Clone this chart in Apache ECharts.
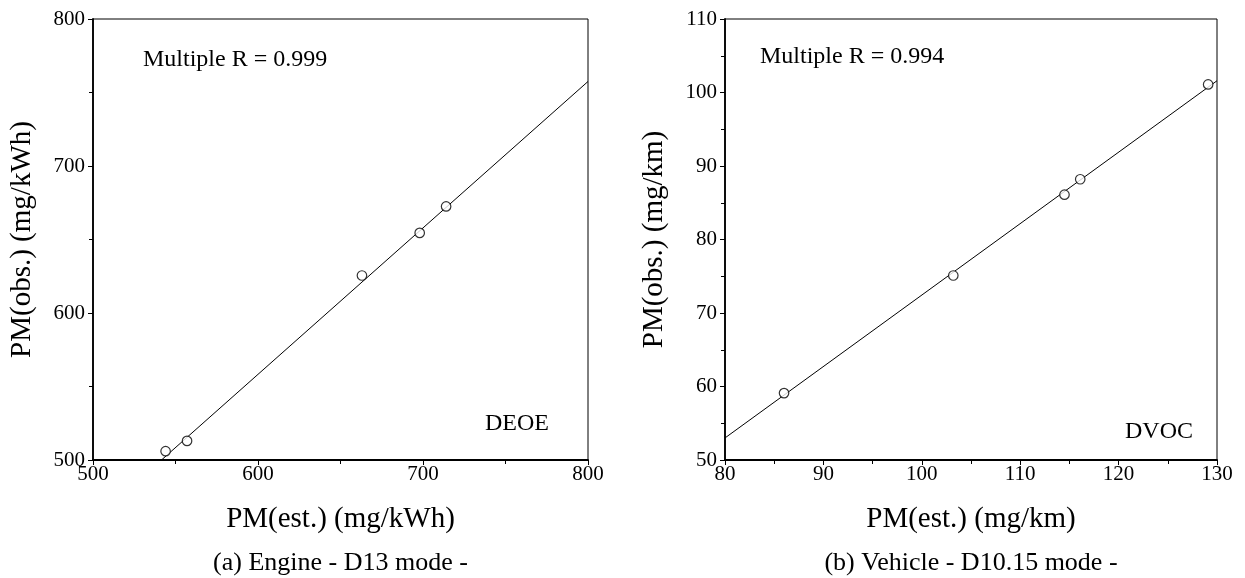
<!DOCTYPE html>
<html>
<head>
<meta charset="utf-8">
<script src="https://cdn.jsdelivr.net/npm/echarts@6/dist/echarts.min.js"></script>
<style>
html,body{margin:0;padding:0;background:#fff;}
#chart{width:1245px;height:578px;}
</style>
</head>
<body>
<div id="chart"></div>
<script>
// Panel (a) Engine - D13 mode
const estA = [544, 557, 663, 698, 714];
const obsA = [506, 513, 625.5, 654.5, 672.5];
const fitAX = [541.5, 800];
const fitAY = [500, 757.5];
// Panel (b) Vehicle - D10.15 mode
const estB = [86, 103.2, 114.5, 116.1, 129.1];
const obsB = [59.1, 75.1, 86.1, 88.2, 101.1];
const fitBX = [80, 130];
const fitBY = [53, 101.6];

const labelsText = {
  aR: 'Multiple R = 0.999', bR: 'Multiple R = 0.994',
  aTag: 'DEOE', bTag: 'DVOC',
  aX: 'PM(est.) (mg/kWh)', aY: 'PM(obs.) (mg/kWh)',
  bX: 'PM(est.) (mg/km)', bY: 'PM(obs.) (mg/km)',
  aCap: '(a) Engine - D13 mode -', bCap: '(b) Vehicle - D10.15 mode -'
};

const FONT = "'Liberation Serif', 'Times New Roman', serif";
const zip = (xs, ys) => xs.map((x, i) => [x, ys[i]]);

function xAxisCfg(idx, min, max, interval, name) {
  return {
    type: 'value', gridIndex: idx, min, max, interval, name,
    nameLocation: 'middle', nameGap: 45,
    nameTextStyle: {fontFamily: FONT, fontSize: 29, color: '#000'},
    axisLine: {show: true, onZero: false, lineStyle: {color: '#000', width: 1.8}},
    axisTick: {show: true, inside: false, length: 5, lineStyle: {color: '#000', width: 1}},
    minorTick: {show: true, splitNumber: 2, length: 4, lineStyle: {color: '#000', width: 1}},
    axisLabel: {fontFamily: FONT, fontSize: 21, color: '#000', margin: 4},
    splitLine: {show: false}
  };
}
function yAxisCfg(idx, min, max, interval, name) {
  return {
    type: 'value', gridIndex: idx, min, max, interval, name,
    nameLocation: 'middle', nameGap: 56, nameRotate: 90,
    nameTextStyle: {fontFamily: FONT, fontSize: 29, color: '#000'},
    axisLine: {show: true, onZero: false, lineStyle: {color: '#000', width: 1.8}},
    axisTick: {show: true, inside: false, length: 5, lineStyle: {color: '#000', width: 1}},
    minorTick: {show: true, splitNumber: 2, length: 4, lineStyle: {color: '#000', width: 1}},
    axisLabel: {fontFamily: FONT, fontSize: 21, color: '#000', margin: 8},
    splitLine: {show: false}
  };
}

const gridA = {left: 93, top: 19, width: 495, height: 441};
const gridB = {left: 725, top: 19, width: 492, height: 441};

const scatterStyle = {color: '#fff', borderColor: '#000', borderWidth: 1.2};

const chart = echarts.init(document.getElementById('chart'), null, {renderer: 'canvas'});
chart.setOption({
  backgroundColor: '#fff',
  animation: false,
  grid: [
    Object.assign({show: true, borderColor: '#000', borderWidth: 1, backgroundColor: 'transparent'}, gridA),
    Object.assign({show: true, borderColor: '#000', borderWidth: 1, backgroundColor: 'transparent'}, gridB)
  ],
  xAxis: [
    xAxisCfg(0, 500, 800, 100, labelsText.aX),
    xAxisCfg(1, 80, 130, 10, labelsText.bX)
  ],
  yAxis: [
    yAxisCfg(0, 500, 800, 100, labelsText.aY),
    yAxisCfg(1, 50, 110, 10, labelsText.bY)
  ],
  series: [
    {type: 'line', xAxisIndex: 0, yAxisIndex: 0, data: zip(fitAX, fitAY), symbol: 'none',
     lineStyle: {color: '#000', width: 1}, z: 2},
    {type: 'scatter', xAxisIndex: 0, yAxisIndex: 0, data: zip(estA, obsA), symbol: 'circle',
     symbolSize: 9.5, itemStyle: scatterStyle, z: 3},
    {type: 'line', xAxisIndex: 1, yAxisIndex: 1, data: zip(fitBX, fitBY), symbol: 'none',
     lineStyle: {color: '#000', width: 1}, z: 2},
    {type: 'scatter', xAxisIndex: 1, yAxisIndex: 1, data: zip(estB, obsB), symbol: 'circle',
     symbolSize: 9.5, itemStyle: scatterStyle, z: 3}
  ],
  graphic: [
    {type: 'text', left: 143, top: 48, style: {text: labelsText.aR, font: '24px ' + FONT, fill: '#000'}},
    {type: 'text', left: 760, top: 45, style: {text: labelsText.bR, font: '24px ' + FONT, fill: '#000'}},
    {type: 'text', left: 485, top: 412, style: {text: labelsText.aTag, font: '24px ' + FONT, fill: '#000'}},
    {type: 'text', left: 1125, top: 420, style: {text: labelsText.bTag, font: '24px ' + FONT, fill: '#000'}},
    {type: 'text', x: gridA.left + gridA.width / 2, y: 563,
     style: {text: labelsText.aCap, font: '26px ' + FONT, fill: '#000', align: 'center', verticalAlign: 'middle'}},
    {type: 'text', x: gridB.left + gridB.width / 2, y: 563,
     style: {text: labelsText.bCap, font: '26px ' + FONT, fill: '#000', align: 'center', verticalAlign: 'middle'}}
  ]
});
</script>
</body>
</html>
